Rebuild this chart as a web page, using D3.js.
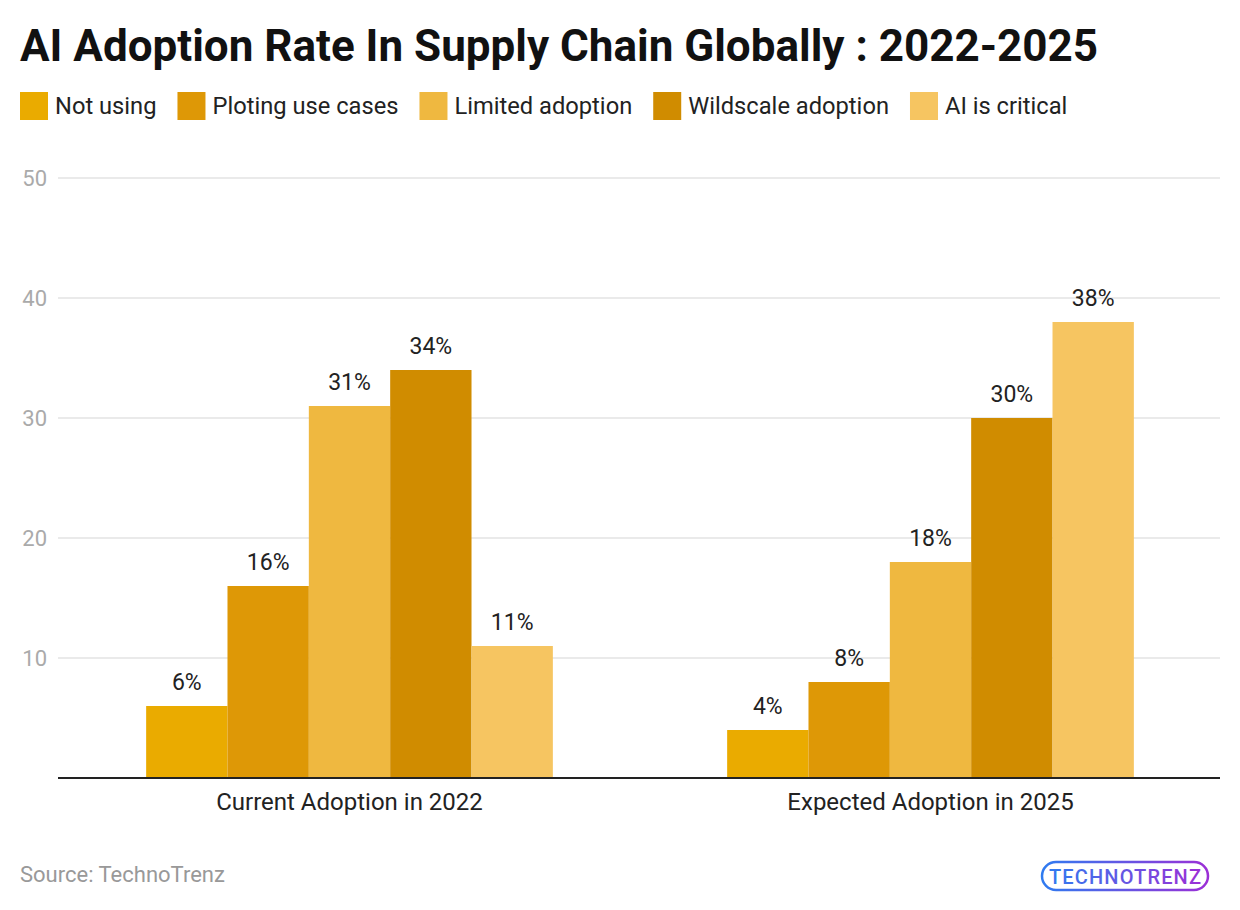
<!DOCTYPE html>
<html><head><meta charset="utf-8">
<script src="https://cdn.jsdelivr.net/npm/d3@7"></script>
<style>body{margin:0;background:#fff}svg{display:block;font-family:Roboto,"Noto Sans",sans-serif}</style>
</head><body>
<svg id="c" width="1240" height="910"></svg>
<script>
const categories = ["Current Adoption in 2022", "Expected Adoption in 2025"];
const seriesNames = ["Not using", "Ploting use cases", "Limited adoption", "Wildscale adoption", "AI is critical"];
const notUsing = [6, 4];
const plotingUseCases = [16, 8];
const limitedAdoption = [31, 18];
const wildscaleAdoption = [34, 30];
const aiIsCritical = [11, 38];
const yTicks = [10, 20, 30, 40, 50];
const colors = ["#EAAB00", "#DE9806", "#EFB840", "#D08C00", "#F6C561"];

const seriesValues = [notUsing, plotingUseCases, limitedAdoption, wildscaleAdoption, aiIsCritical];
const svg = d3.select("#c");
const L = 58, R = 1220, T = 178, B = 778;

svg.append("text").attr("x", 20).attr("y", 61).attr("font-size", 44).attr("font-weight", 700)
  .attr("fill", "#111").text("AI Adoption Rate In Supply Chain Globally : 2022-2025");

// legend
let lx = 20;
seriesNames.forEach((n, i) => {
  const g = svg.append("g");
  g.append("rect").attr("x", lx).attr("y", 92).attr("width", 28).attr("height", 28).attr("fill", colors[i]);
  const t = g.append("text").attr("x", lx + 35).attr("y", 114).attr("font-size", 23.7).attr("fill", "#222").text(n);
  lx += 35 + t.node().getComputedTextLength() + 21;
});

const x0 = d3.scaleBand().domain(categories).range([L, R]).paddingInner(0.3).paddingOuter(0.15);
const x1 = d3.scaleBand().domain(seriesNames).range([0, x0.bandwidth()]);
const y = d3.scaleLinear().domain([0, 50]).range([B, T]);

// grid
svg.append("g").selectAll("line").data(yTicks).join("line")
  .attr("x1", L).attr("x2", R).attr("y1", d => y(d)).attr("y2", d => y(d))
  .attr("stroke", "#e3e3e3").attr("stroke-width", 1.5);
svg.append("g").selectAll("text").data(yTicks).join("text")
  .attr("x", 47).attr("y", d => y(d) + 8).attr("text-anchor", "end")
  .attr("font-size", 22).attr("fill", "#aaa").text(d => d);

// bars
categories.forEach((c, ci) => {
  const g = svg.append("g").attr("transform", `translate(${x0(c) + 1},0)`);
  seriesNames.forEach((s, si) => {
    const v = seriesValues[si][ci];
    g.append("rect").attr("x", x1(s)).attr("width", x1.bandwidth())
      .attr("y", y(v)).attr("height", B - y(v)).attr("fill", colors[si]);
    g.append("text").attr("x", x1(s) + x1.bandwidth() / 2).attr("y", y(v) - 16)
      .attr("text-anchor", "middle").attr("font-size", 23).attr("fill", "#222").text(v + "%");
  });
});

// baseline
svg.append("line").attr("x1", L).attr("x2", R).attr("y1", B).attr("y2", B).attr("stroke", "#222").attr("stroke-width", 2);

// category labels
svg.append("g").selectAll("text").data(categories).join("text")
  .attr("x", d => x0(d) + x0.bandwidth() / 2 + 1).attr("y", 810).attr("text-anchor", "middle")
  .attr("font-size", 24).attr("fill", "#222").text(d => d);

svg.append("text").attr("x", 20).attr("y", 882).attr("font-size", 22).attr("fill", "#999").text("Source: TechnoTrenz");

// logo
const defs = svg.append("defs");
const gr = defs.append("linearGradient").attr("id", "lg").attr("x1", "0%").attr("x2", "100%");
gr.append("stop").attr("offset", "0%").attr("stop-color", "#2f7bf0");
gr.append("stop").attr("offset", "100%").attr("stop-color", "#9b2fd6");
const lg = svg.append("g");
lg.append("rect").attr("x", 1042).attr("y", 862).attr("width", 166).attr("height", 28).attr("rx", 14)
  .attr("fill", "none").attr("stroke", "url(#lg)").attr("stroke-width", 2.5);
lg.append("text").attr("x", 1125).attr("y", 884).attr("text-anchor", "middle").attr("font-size", 20)
  .attr("font-weight", 500).attr("fill", "url(#lg)").attr("textLength", 152).text("TECHNOTRENZ");
</script>
</body></html>
